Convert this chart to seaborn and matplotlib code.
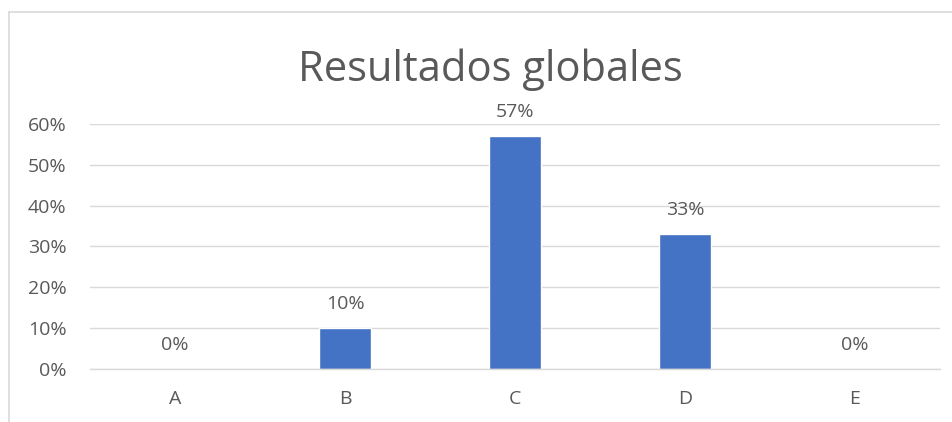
import matplotlib
matplotlib.use("Agg")
import matplotlib.pyplot as plt
from matplotlib.lines import Line2D
from matplotlib.ticker import PercentFormatter
import pandas as pd
import seaborn as sns

# chart data
categories = ["A", "B", "C", "D", "E"]
values = [0.00, 0.10, 0.57, 0.33, 0.00]
title = "Resultados globales"

BLUE = "#4472C4"
TEXT = "#595959"
GRID = "#D9D9D9"

sns.set_style("white")
plt.rcParams["font.family"] = ["Open Sans", "DejaVu Sans"]

df = pd.DataFrame({"cat": categories, "val": values})

W, H = 953, 422
fig = plt.figure(figsize=(W / 100, H / 100), dpi=100)
ax = fig.add_axes([90 / W, 1 - 369 / H, 850 / W, (369 - 124) / H])

sns.barplot(data=df, x="cat", y="val", color=BLUE, width=0.31, saturation=1, ax=ax)

ax.set_xlim(-0.5, len(categories) - 0.5)
ax.set_ylim(0, 0.6)
ax.set_yticks([i / 10 for i in range(7)])
ax.yaxis.set_major_formatter(PercentFormatter(1.0, decimals=0))
ax.grid(axis="y", color=GRID, linewidth=1)
ax.set_axisbelow(True)
for s in ["top", "right", "left"]:
    ax.spines[s].set_visible(False)
ax.spines["bottom"].set_color(GRID)
ax.spines["bottom"].set_linewidth(1)
ax.tick_params(axis="both", length=0, labelsize=14, colors=TEXT)
ax.tick_params(axis="y", pad=17)
ax.tick_params(axis="x", pad=15)
ax.set_xlabel("")
ax.set_ylabel("")

for i, v in enumerate(values):
    ax.annotate(f"{v:.0%}", (i, v), xytext=(0, 11), textcoords="offset points",
                ha="center", va="bottom", fontsize=14, color=TEXT, annotation_clip=False)

fig.text(490 / W, 1 - 70 / H, title, ha="center", va="center", fontsize=30, color=TEXT)

# chart border (left and top edges visible)
fig.add_artist(Line2D([9 / W, 9 / W], [0, 1 - 12 / H], color=GRID, linewidth=1.2))
fig.add_artist(Line2D([9 / W, 1], [1 - 12 / H, 1 - 12 / H], color=GRID, linewidth=1.2))

fig.savefig("out.png", dpi=100, facecolor="white")
